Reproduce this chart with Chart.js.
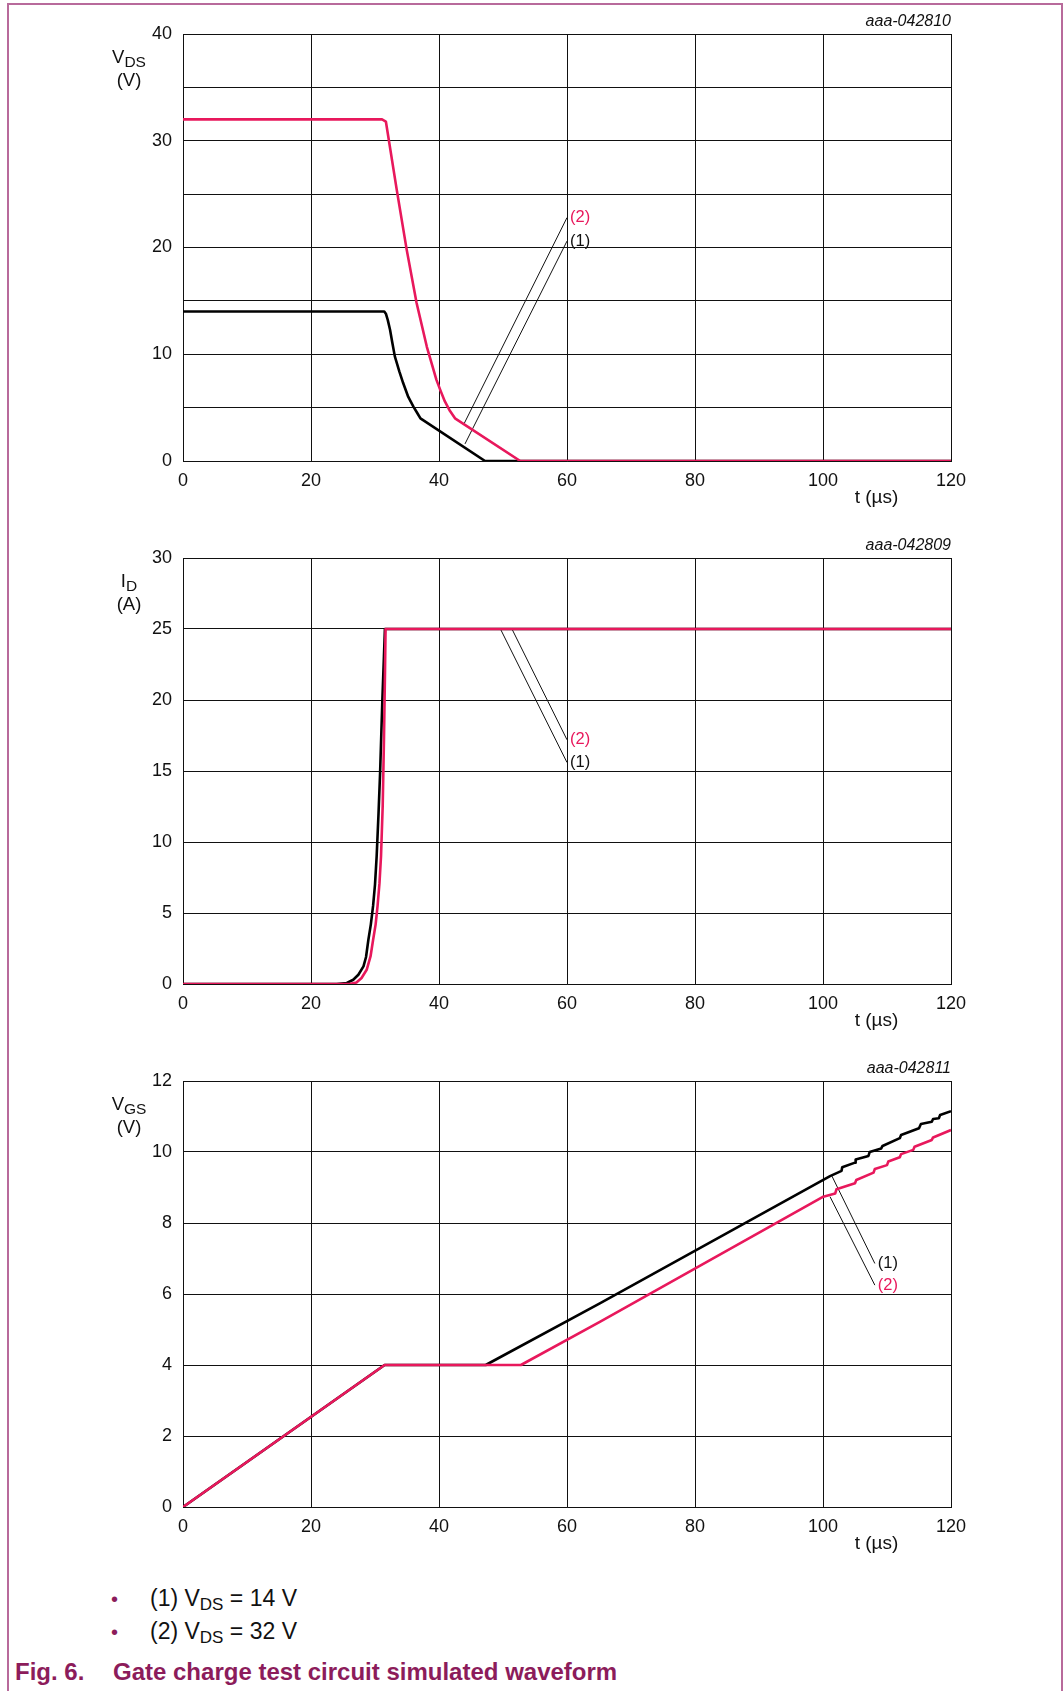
<!DOCTYPE html>
<html><head><meta charset="utf-8">
<script src="https://cdn.jsdelivr.net/npm/chart.js@4/dist/chart.umd.min.js"></script>
<style>
html,body{margin:0;padding:0;background:#fff;}
#page{position:relative;width:1064px;height:1691px;overflow:hidden;font-family:"Liberation Sans",Arial,sans-serif;}
#frame{position:absolute;left:7px;top:3px;width:1056px;height:1720px;border:2px solid #b86a9b;border-bottom:none;box-sizing:border-box;}
canvas{position:absolute;left:0;}
.leg{position:absolute;left:150px;font-size:23px;line-height:23px;color:#111;white-space:nowrap;}
.bul{position:absolute;left:111px;font-size:20px;line-height:20px;color:#8c1c5b;}
.sub{font-size:17px;position:relative;top:4px;}
.cap{position:absolute;font-size:24px;line-height:24px;font-weight:bold;color:#8c1c5b;white-space:nowrap;}
</style></head>
<body>
<div id="page">
<div id="frame"></div>
<canvas id="c1" width="1064" height="520" style="top:0px"></canvas>
<canvas id="c2" width="1064" height="520" style="top:520px"></canvas>
<canvas id="c3" width="1064" height="520" style="top:1040px"></canvas>
<div class="bul" style="top:1589px">•</div>
<div class="leg" style="top:1587px">(1) V<span class="sub">DS</span> = 14 V</div>
<div class="bul" style="top:1622px">•</div>
<div class="leg" style="top:1620px">(2) V<span class="sub">DS</span> = 32 V</div>
<div class="cap" style="left:15px;top:1660px">Fig. 6.</div>
<div class="cap" style="left:113px;top:1660px">Gate charge test circuit simulated waveform</div>
</div>
<script>
// ---------- data ----------
const xTicks = [0, 20, 40, 60, 80, 100, 120];

// VDS chart
const vds1T = [0, 31.0, 31.45, 31.7, 32.0, 32.35, 32.7, 33.1, 33.8, 34.4, 35.2, 36.0, 36.6, 37.1, 47.2, 120];
const vds1V = [14, 14, 14.0, 13.8, 13.2, 12.3, 11.1, 9.8, 8.4, 7.3, 6.0, 5.1, 4.5, 4.0, 0, 0];
const vds2T = [0, 31.1, 31.7, 33.4, 34.95, 36.5, 38.1, 39.6, 40.3, 40.9, 41.7, 42.5, 52.7, 120];
const vds2V = [32, 32, 31.8, 25.4, 19.8, 14.8, 10.7, 7.6, 6.5, 5.6, 4.7, 4.0, 0, 0];
const vdsNote1T = [44.06, 60]; const vdsNote1V = [1.6, 20.6];
const vdsNote2T = [43.95, 60]; const vdsNote2V = [3.53, 22.8];

// ID chart
const id1T = [0, 24, 25.6, 26.6, 27.4, 28.2, 28.6, 28.96, 29.35, 29.7, 30.0, 30.26, 30.55, 30.8, 31.15, 31.4, 31.55, 120];
const id1A = [0, 0, 0.07, 0.3, 0.65, 1.24, 1.9, 3.1, 4.2, 5.5, 7.0, 9.0, 12.0, 14.9, 20.0, 23.1, 25, 25];
const id2T = [0, 26, 27.1, 27.9, 28.7, 29.3, 29.7, 30.1, 30.4, 30.7, 30.94, 31.2, 31.4, 31.56, 31.65, 120];
const id2A = [0, 0, 0.1, 0.42, 1.0, 1.94, 3.1, 4.2, 5.5, 7.1, 9.0, 12.5, 17.2, 21.9, 25, 25];
const idNote1T = [49.6, 60]; const idNote1A = [25, 15.6];
const idNote2T = [51.4, 60]; const idNote2A = [25, 17.2];

// VGS chart
const vgs1T = [0, 31.5, 47.3, 65.2, 101.1, 102.9, 103.0, 105.0, 105.1, 107.1, 107.3, 109.1, 109.3, 112.0, 112.2, 115.0, 115.3, 117.0, 117.2, 118.1, 118.3, 120];
const vgs1V = [0, 4.0, 4.0, 5.74, 9.32, 9.47, 9.57, 9.70, 9.79, 9.89, 10.0, 10.10, 10.17, 10.39, 10.48, 10.67, 10.79, 10.85, 10.93, 10.95, 11.04, 11.15];
const vgs2T = [0, 31.5, 52.8, 65.2, 100.05, 101.9, 102.1, 105.0, 105.2, 107.9, 108.1, 110.0, 110.2, 112.0, 112.2, 114.1, 114.3, 117.0, 117.2, 120];
const vgs2V = [0, 4.0, 4.0, 5.22, 8.74, 8.83, 8.95, 9.12, 9.21, 9.42, 9.52, 9.63, 9.73, 9.85, 9.94, 10.06, 10.15, 10.34, 10.41, 10.62];
const vgsNote1T = [101.4, 108.1]; const vgsNote1V = [9.32, 6.86];
const vgsNote2T = [101.1, 108.1]; const vgsNote2V = [8.74, 6.25];

// ---------- drawing ----------
const FONT = '"Liberation Sans", Arial, sans-serif';
const RED = '#e8185c';
const BLACK = '#000000';

function pts(ts, vs) { return ts.map((t, i) => ({ x: t, y: vs[i] })); }

const textPlugin = {
  id: 'txt',
  afterDraw(chart) {
    const o = chart.options.plugins.txt;
    const ctx = chart.ctx, a = chart.chartArea;
    const xs = chart.scales.x, ys = chart.scales.y;
    ctx.save();
    ctx.fillStyle = '#111';
    ctx.textBaseline = 'alphabetic';
    ctx.font = 'italic 16px ' + FONT;
    ctx.textAlign = 'right';
    ctx.fillText(o.code, a.right, a.top - 8);
    // y title
    ctx.textAlign = 'left';
    ctx.font = '18.5px ' + FONT;
    const w1 = ctx.measureText(o.yMain).width;
    ctx.font = '15.5px ' + FONT;
    const w2 = ctx.measureText(o.ySub).width;
    const cx = 129;
    const x0 = cx - (w1 + w2) / 2;
    ctx.font = '18.5px ' + FONT;
    ctx.fillText(o.yMain, x0, a.top + 29);
    ctx.font = '15.5px ' + FONT;
    ctx.fillText(o.ySub, x0 + w1, a.top + 32.5);
    ctx.font = '18.5px ' + FONT;
    ctx.textAlign = 'center';
    ctx.fillText(o.yUnit, cx, a.top + 52);
    // x title
    ctx.font = '19px ' + FONT;
    ctx.fillText('t (\u00b5s)', a.right - 74.5, a.bottom + 42);
    // notes
    ctx.font = '16.5px ' + FONT;
    ctx.textAlign = 'left';
    ctx.textBaseline = 'middle';
    o.notes.forEach(n => {
      ctx.fillStyle = n.color;
      ctx.fillText(n.text, xs.getPixelForValue(n.t) + 3, ys.getPixelForValue(n.v));
    });
    ctx.restore();
  }
};

function makeChart(id, cfg) {
  const canvasH = 520;
  const ds = [
    { data: pts(cfg.s2[0], cfg.s2[1]), borderColor: RED, borderWidth: 2.6, order: 0 },
    { data: pts(cfg.s1[0], cfg.s1[1]), borderColor: BLACK, borderWidth: 2.6, order: 1 },
    { data: pts(cfg.n1[0], cfg.n1[1]), borderColor: '#111', borderWidth: 1, order: 2 },
    { data: pts(cfg.n2[0], cfg.n2[1]), borderColor: '#111', borderWidth: 1, order: 2 }
  ].map(d => Object.assign(d, { pointRadius: 0, tension: 0, fill: false, borderJoinStyle: 'round', borderCapStyle: 'butt' }));

  const chart = new Chart(document.getElementById(id), {
    type: 'line',
    data: { datasets: ds },
    plugins: [textPlugin],
    options: {
      responsive: false,
      animation: false,
      events: [],
      layout: { padding: { left: 0, right: 113, top: cfg.top, bottom: 0 } },
      plugins: {
        legend: { display: false },
        tooltip: { enabled: false },
        txt: { code: cfg.code, yMain: cfg.yMain, ySub: cfg.ySub, yUnit: cfg.yUnit, notes: cfg.notes }
      },
      scales: {
        x: {
          type: 'linear', min: xTicks[0], max: xTicks[xTicks.length - 1],
          afterBuildTicks: s => { s.ticks = xTicks.map(v => ({ value: v })); },
          afterFit: s => { s.height = canvasH - cfg.bottom; },
          grid: { color: '#111', lineWidth: 1, drawTicks: false },
          border: { display: true, color: '#111', width: 1 },
          ticks: { color: '#111', font: { family: FONT, size: 18 }, padding: 9, maxRotation: 0, autoSkip: false }
        },
        y: {
          type: 'linear', min: cfg.yMin, max: cfg.yMax,
          ticks: {
            stepSize: cfg.yStep, color: '#111', font: { family: FONT, size: 18 }, padding: 11,
            callback: v => (Math.abs(v / cfg.yLabelStep - Math.round(v / cfg.yLabelStep)) < 1e-6 ? String(v) : '')
          },
          afterFit: s => { s.width = 183; },
          grid: { color: '#111', lineWidth: 1, drawTicks: false },
          border: { display: true, color: '#111', width: 1 }
        }
      }
    }
  });
  // fine-tune so that the plot area lands where it should
  const target = { left: 183, right: 951, top: cfg.top, bottom: cfg.bottom };
  for (let i = 0; i < 3; i++) {
    const a = chart.chartArea, p = chart.options.layout.padding;
    p.top += target.top - a.top;
    p.right += a.right - target.right;
    p.left += target.left - a.left;
    chart.update('none');
  }
  return chart;
}

makeChart('c1', {
  top: 34, bottom: 461, yMin: 0, yMax: 40, yStep: 5, yLabelStep: 10,
  code: 'aaa-042810', yMain: 'V', ySub: 'DS', yUnit: '(V)',
  s1: [vds1T, vds1V], s2: [vds2T, vds2V], n1: [vdsNote1T, vdsNote1V], n2: [vdsNote2T, vdsNote2V],
  notes: [
    { t: vdsNote2T[1], v: vdsNote2V[1], text: '(2)', color: RED },
    { t: vdsNote1T[1], v: vdsNote1V[1], text: '(1)', color: '#111' }
  ]
});
makeChart('c2', {
  top: 38, bottom: 464, yMin: 0, yMax: 30, yStep: 5, yLabelStep: 5,
  code: 'aaa-042809', yMain: 'I', ySub: 'D', yUnit: '(A)',
  s1: [id1T, id1A], s2: [id2T, id2A], n1: [idNote1T, idNote1A], n2: [idNote2T, idNote2A],
  notes: [
    { t: idNote2T[1], v: idNote2A[1], text: '(2)', color: RED },
    { t: idNote1T[1], v: idNote1A[1], text: '(1)', color: '#111' }
  ]
});
makeChart('c3', {
  top: 41, bottom: 467, yMin: 0, yMax: 12, yStep: 2, yLabelStep: 2,
  code: 'aaa-042811', yMain: 'V', ySub: 'GS', yUnit: '(V)',
  s1: [vgs1T, vgs1V], s2: [vgs2T, vgs2V], n1: [vgsNote1T, vgsNote1V], n2: [vgsNote2T, vgsNote2V],
  notes: [
    { t: vgsNote1T[1], v: vgsNote1V[1], text: '(1)', color: '#111' },
    { t: vgsNote2T[1], v: vgsNote2V[1], text: '(2)', color: RED }
  ]
});
</script>
</body></html>
